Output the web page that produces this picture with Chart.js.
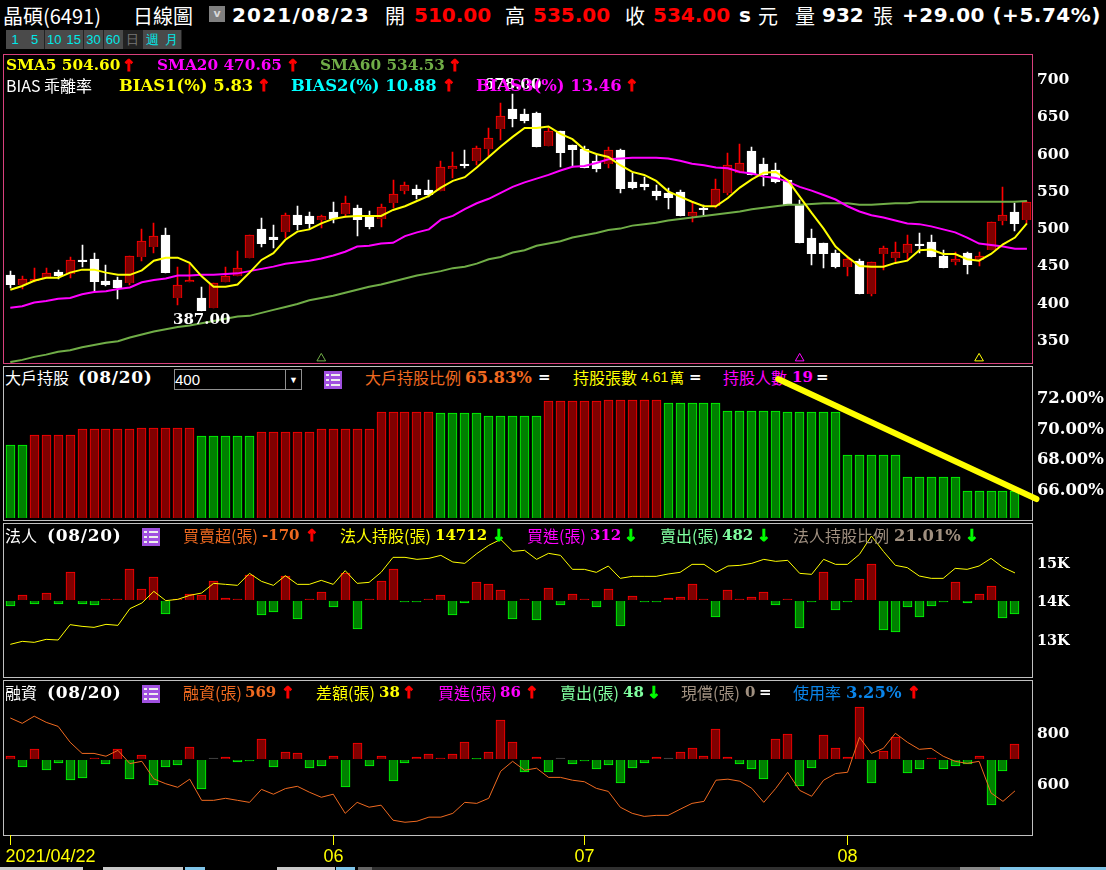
<!DOCTYPE html>
<html>
<head>
<meta charset="utf-8">
<script src="https://cdn.jsdelivr.net/npm/chart.js@4"></script>
<style>
html, body { margin: 0; padding: 0; background: #000; width: 1106px; height: 870px; overflow: hidden; }
canvas { position: absolute; left: 0; z-index: 1; }
.t { position: absolute; white-space: nowrap; transform: translateY(-50%); line-height: 1; }
.panel { position: absolute; box-sizing: border-box; border: 1px solid #c0c0c0; left: 3px; width: 1030px; }
.cell { position: absolute; top: 30px; height: 19px; width: 19px; background: #4a4a4a; border-right: 1px solid #222; color: #00e8e8; font: 13px "Liberation Sans"; line-height: 19px; text-align: center; }
.icon { position: absolute; left: 0; width: 18px; height: 18px; background: #a050e0; z-index: 2; }
.icon i { position: absolute; left: 7px; width: 9px; height: 2px; background: #eee; }
.icon b { position: absolute; left: 2px; width: 3px; height: 2px; background: #eee; }
.bar { position: absolute; top: 867px; height: 3px; }
</style>
</head>
<body>
<script>
// x 軸: 2021/04/22 ~ 2021/08/23 共 86 根
const days = Array.from({ length: 86 }, (_, i) => i);

// K 線
const openPrice = [
  436,423,428,432,440,437,456,457,428,429,
  425,460,474,490,405,427,405,392,426,435,
  458,498,487,494,516,515,509,520,517,526,
  513,511,533,548,551,550,549,578,585,588,
  605,631,658,652,653,609,629,610,605,589,
  585,603,561,558,548,546,547,515,525,528,
  546,573,602,585,577,563,530,486,479,465,
  447,455,410,464,459,465,477,480,461,453,
  465,456,469,508,520,510];
const highPrice = [
  441,435,445,445,443,460,476,465,449,433,
  461,498,506,499,447,450,420,425,447,468,
  490,512,503,519,528,520,516,534,542,529,
  522,531,563,561,557,563,589,601,604,609,
  633,667,678,658,654,633,629,610,609,597,
  608,605,572,567,557,552,550,534,530,564,
  600,612,607,593,586,563,536,498,479,469,
  461,457,453,475,480,490,492,490,469,467,
  467,467,507,554,532,535];
const lowPrice = [
  419,417,427,432,431,432,447,414,421,404,
  422,455,465,438,396,427,387,392,426,435,
  458,473,472,486,496,497,499,506,514,488,
  498,500,526,544,538,541,549,566,579,583,
  595,617,634,640,608,609,581,581,579,574,
  579,546,551,550,536,524,515,507,516,525,
  543,573,570,555,559,530,479,449,445,445,
  435,410,408,443,453,456,465,460,445,449,
  437,448,469,503,495,505];
const closePrice = [
  422,431,431,439,435,456,453,426,422,418,
  461,482,488,438,422,429,387,425,435,445,
  490,478,483,516,503,504,515,511,532,510,
  500,527,545,556,543,543,580,582,582,606,
  620,649,645,642,608,629,599,603,579,578,
  603,551,553,554,542,539,515,520,523,551,
  583,586,570,570,561,530,479,464,464,447,
  457,410,453,472,467,477,475,460,445,457,
  449,461,507,516,504,534];

// 均線
const sma5 = [
  416,421,428,432,432,439,443,443,439,436,
  436,442,455,459,459,452,434,420,420,423,
  439,456,465,483,494,497,505,511,514,515,
  515,515,523,528,535,542,553,562,567,580,
  594,608,621,633,633,635,625,618,604,598,
  594,583,574,570,562,548,541,534,528,528,
  539,553,564,573,574,563,541,519,498,474,
  460,448,447,447,452,455,469,470,464,464,
  457,455,464,477,486,505];
const sma20 = [
  392,394,399,401,404,405,410,413,414,417,
  419,426,429,431,435,435,436,436,437,438,
  441,444,447,451,453,455,458,462,467,474,
  475,478,479,488,493,497,510,515,524,532,
  538,546,554,560,565,570,576,581,582,586,
  591,592,593,593,593,592,589,585,583,580,
  579,574,572,568,566,561,554,549,543,537,
  528,521,516,513,509,505,504,501,497,493,
  486,478,476,474,471,471];
const sma60 = [
  319,322,326,329,333,335,339,342,345,347,
  352,356,360,363,366,368,371,374,377,380,
  381,385,389,393,397,402,405,408,412,416,
  420,423,427,431,435,438,441,445,447,451,
  457,460,466,469,475,478,481,486,489,492,
  496,498,502,504,506,509,511,513,515,517,
  519,521,524,526,528,530,530,531,532,532,
  532,530,530,531,532,532,534,534,534,534,
  534,534,534,534,534,535];
const priceTicks = [350, 400, 450, 500, 550, 600, 650, 700];
const signalDays = [26, 66, 81];
const signalPrice = 324;

// 大戶持股 (%)
const bigHolder = [
  68.84,68.84,69.5,69.5,69.5,69.5,69.89,69.89,69.89,69.89,
  69.89,69.95,69.95,69.95,69.95,69.95,69.43,69.43,69.43,69.43,
  69.43,69.69,69.69,69.69,69.69,69.69,69.89,69.89,69.89,69.89,
  69.89,71,71,71,71,71,70.93,70.93,70.93,70.93,
  70.74,70.74,70.74,70.74,70.74,71.72,71.72,71.72,71.72,71.72,
  71.78,71.78,71.78,71.78,71.78,71.59,71.59,71.59,71.59,71.59,
  71.07,71.07,71.07,71.07,71.07,71,71,71,71,71,
  68.19,68.19,68.19,68.19,68.19,66.75,66.75,66.75,66.75,66.75,
  65.83,65.83,65.83,65.83,65.83];
const bigHolderTicks = [66, 68, 70, 72];
const trendDays = [64.2, 85.8];
const trendValues = [73.18, 65.33];

// 法人
const instNet = [
  -64,73,-37,101,-37,390,-37,-50,18,5,
  431,156,321,-174,5,87,73,266,32,18,
  353,-188,-147,335,-243,5,115,-78,376,-381,
  18,266,431,-5,-5,18,73,-188,-18,252,
  225,142,-243,18,-257,170,-50,87,5,-78,
  156,-340,60,-5,-5,32,46,225,5,-216,
  142,18,46,115,-50,18,-367,-5,390,-119,
  -5,294,500,-395,-422,-78,-216,-64,-5,252,
  -18,87,197,-230,-170];
const instHold = [
  12855,12933,12907,12985,12968,13367,13323,13297,13375,13349,
  13783,13930,14233,13991,14025,14129,14190,14441,14415,14389,
  14701,14493,14389,14641,14415,14415,14519,14415,14771,14441,
  14467,14727,15117,15117,15065,15091,15169,14996,14961,15213,
  15429,15585,15273,15299,15065,15221,15169,14805,14805,14727,
  14892,14571,14623,14623,14623,14684,14727,14935,14935,14727,
  14892,14909,14961,15065,15013,15039,14701,14675,15065,14935,
  14935,15195,15672,15273,14909,14849,14632,14571,14571,14831,
  14805,14892,15091,14857,14712];
const instTicks = [13000, 14000, 15000];

// 融資
const marginNet = [
  6,-19,25,-27,-9,-54,-49,1,-11,25,
  -51,9,-67,-19,-14,30,-78,0,4,-5,
  -4,51,-19,17,14,-22,-17,6,-72,41,
  -17,6,-57,-9,4,11,1,11,43,-1,
  17,102,43,-33,4,-33,0,-11,-4,-25,
  -14,-62,-22,-9,4,0,17,27,6,78,
  4,-11,-25,-51,51,65,-70,-22,62,27,
  4,136,-62,19,57,-35,-25,1,-25,-17,
  -11,6,-120,-30,38];
const marginHold = [
  855,834,862,838,822,760,716,716,705,728,
  676,685,616,597,583,615,532,532,540,532,
  524,575,556,578,587,564,544,556,481,524,
  505,513,454,446,450,466,466,481,524,520,
  540,646,685,650,658,622,622,611,605,579,
  567,505,481,469,473,473,497,520,528,611,
  615,607,579,524,579,642,571,548,611,637,
  642,779,716,736,795,760,732,736,705,685,
  677,685,561,528,569];
const marginTicks = [600, 800];

// 月份刻度
const monthDays = [0, 27, 48, 70];
const monthLabels = ["2021/04/22", "06", "07", "08"];

const RED = "#ff0000", DARK_RED = "#800000", GREEN = "#00ff00", DARK_GREEN = "#008000";
const SERIF = '"DejaVu Serif"';
const CJK = '"Noto Sans CJK TC"';

// 把長條對齊到整數像素,負值往下退一格
const crispBars = {
  id: "crispBars",
  afterDatasetsUpdate(chart) {
    chart.data.datasets.forEach((ds, n) => {
      const meta = chart.getDatasetMeta(n);
      if (meta.type !== "bar") return;
      meta.data.forEach((el) => {
        if (!isFinite(el.y)) return;
        el.x = Math.floor(el.x) + 0.5;
        el.y = Math.round(el.y);
        el.base = Math.round(el.base);
        if (ds.zeroGap) {
          if (el.y === el.base) el.y = el.base - 1;
          if (el.y > el.base) { el.y += 1; el.base += 1; }
        }
      });
    });
  }
};

function baseOptions(yScales) {
  return {
    responsive: false,
    animation: false,
    events: [],
    plugins: { legend: { display: false }, tooltip: { enabled: false } },
    layout: { autoPadding: false, padding: { left: 4.32 } },
    scales: Object.assign({ x: { display: false, offset: true, grid: { display: false } } }, yScales)
  };
}

function valueAxis(min, max, tickValues, format, fontSize) {
  return {
    position: "right", min, max,
    grid: { display: false, drawTicks: false },
    border: { display: false },
    afterBuildTicks: (s) => { s.ticks = tickValues.map((v) => ({ value: v })); },
    // 不要讓標籤高度把繪圖區往內縮
    afterFit: (s) => { s.width = 73.1; s.paddingTop = 0; s.paddingBottom = 0; },
    ticks: {
      autoSkip: false, padding: 4, color: "#fff", labelOffset: 2,
      font: { family: "DejaVu Serif", weight: "bold", size: fontSize },
      callback: format
    }
  };
}

function addCanvas(top, height) {
  const c = document.createElement("canvas");
  c.width = 1106;
  c.height = height;
  c.style.top = top + "px";
  document.body.appendChild(c);
  return c.getContext("2d");
}

function text(x, y, str, color, font, z, extra) {
  const s = document.createElement("span");
  s.className = "t";
  s.textContent = str;
  s.style.cssText = `left:${x}px;top:${y}px;color:${color};font:${font};z-index:${z === undefined ? 2 : z};${extra || ""}`;
  document.body.appendChild(s);
}

function arrow(x, y, up) {
  text(x - 1, y, up ? "↑" : "↓", up ? RED : GREEN, 'bold 16px "DejaVu Sans"', 2, "-webkit-text-stroke:1px " + (up ? RED : GREEN));
}

function panel(top, height, color) {
  const p = document.createElement("div");
  p.className = "panel";
  p.style.top = top + "px";
  p.style.height = height + "px";
  if (color) p.style.borderColor = color;
  document.body.appendChild(p);
}

function listIcon(x, y) {
  const d = document.createElement("div");
  d.className = "icon";
  d.style.left = x + "px";
  d.style.top = y + "px";
  d.innerHTML = "<b style='top:3px'></b><i style='top:3px'></i><b style='top:8px'></b><i style='top:8px'></i><b style='top:13px'></b><i style='top:13px'></i>";
  document.body.appendChild(d);
}

// ---- 面板與表頭 ----
panel(54, 310, "#d8407c");
panel(366, 155);
panel(523, 155);
panel(680, 156);

const big = `bold 20px "DejaVu Sans"`;
const cjkTop = `20px ${CJK}`;
text(3, 15, "晶碩(6491)", "#fff", cjkTop);
text(133, 15, "日線圖", "#fff", cjkTop);
text(232, 15, "2021/08/23", "#fff", big, 2, "letter-spacing:1.2px");
text(385, 15, "開", "#fff", cjkTop);
text(414, 15, "510.00", RED, big);
text(505, 15, "高", "#fff", cjkTop);
text(533, 15, "535.00", RED, big);
text(625, 15, "收", "#fff", cjkTop);
text(653, 15, "534.00", RED, big);
text(739, 15, "s", "#fff", big);
text(758, 15, "元", "#fff", cjkTop);
text(795, 15, "量", "#fff", cjkTop);
text(822, 15, "932", "#fff", big);
text(873, 15, "張", "#fff", cjkTop);
text(902, 15, "+29.00 (+5.74%)", "#fff", big, 2, "letter-spacing:.5px");

const btn = document.createElement("div");
btn.style.cssText = 'position:absolute;left:209px;top:6px;width:16px;height:16px;background:#808080;color:#d8d8d8;font:bold 11px "DejaVu Sans";line-height:15px;text-align:center';
btn.textContent = "v";
document.body.appendChild(btn);

["1", "5", "10", "15", "30", "60", "日", "週", "月"].forEach((label, i) => {
  const c = document.createElement("div");
  c.className = "cell";
  c.style.left = 5.5 + i * 19.6 + "px";
  c.textContent = label;
  if (label === "日") { c.style.background = "#222"; c.style.color = "#777"; }
  document.body.appendChild(c);
});

const v15 = `bold 15px ${SERIF}`;
const v153 = `bold 15.3px ${SERIF}`;
const v164 = `bold 16.4px ${SERIF}`;
const date17 = `bold 17px ${SERIF}`;
const c16 = `16px ${CJK}`;
text(6, 65, "SMA5 504.60", "#ffff00", v153);
arrow(123, 65, true);
text(157, 65, "SMA20 470.65", "#ff00ff", v153);
arrow(287, 65, true);
text(320, 65, "SMA60 534.53", "#70ad47", v153);
arrow(449, 65, true);
text(6, 85, "BIAS 乖離率", "#fff", c16);
text(119, 85, "BIAS1(%) 5.83", "#ffff00", v164);
arrow(258, 85, true);
text(291, 85, "BIAS2(%) 10.88", "#00ffff", v164);
arrow(443, 85, true);
text(476, 85, "BIAS3(%) 13.46", "#ff00ff", v164);
arrow(626, 85, true);

// 大戶持股表頭壓在粗黃線下面,所以 z=0
text(5, 377, "大戶持股", "#fff", c16, 0);
text(78, 377, "(08/20)", "#fff", date17, 0, "letter-spacing:.7px");
const combo = document.createElement("div");
combo.style.cssText = 'position:absolute;left:174px;top:369px;width:126px;height:19px;border:1px solid #909090;color:#fff;font:15px "Liberation Sans";line-height:20px;z-index:0';
combo.innerHTML = '400<span style="position:absolute;right:0;top:0;width:15px;height:19px;border-left:1px solid #909090;text-align:center;font-size:9px;line-height:20px">▼</span>';
document.body.appendChild(combo);
listIcon(324, 371);
text(365, 377, "大戶持股比例", "#f06a20", c16, 0);
text(465, 377, "65.83%", "#f06a20", v164, 0);
text(538, 377, "=", "#fff", v15, 0);
text(573, 377, "持股張數", "#ffff00", c16, 0);
text(641, 377, "4.61", "#ffff00", '14px "Liberation Sans"', 0);
text(670, 377, "萬", "#ffff00", `14px ${CJK}`, 0);
text(689, 377, "=", "#fff", v15, 0);
text(723, 377, "持股人數", "#ff00ff", c16, 0);
text(792, 377, "19", "#ff00ff", v15, 0);
text(816, 377, "=", "#fff", v15, 0);

text(5, 535, "法人", "#fff", c16);
text(47, 535, "(08/20)", "#fff", date17, 2, "letter-spacing:.7px");
listIcon(142, 528);
text(183, 535, "買賣超(張)", "#f06a20", c16);
text(262, 535, "-170", "#f06a20", v15);
arrow(306, 535, true);
text(340, 535, "法人持股(張)", "#ffff00", c16);
text(435, 535, "14712", "#ffff00", v15);
arrow(493, 535, false);
text(527, 535, "買進(張)", "#ff00ff", c16);
text(590, 535, "312", "#ff00ff", v15);
arrow(625, 535, false);
text(660, 535, "賣出(張)", "#80ffa0", c16);
text(722, 535, "482", "#80ffa0", v15);
arrow(758, 535, false);
text(793, 535, "法人持股比例", "#a09080", c16);
text(894, 535, "21.01%", "#a09080", v164);
arrow(966, 535, false);

text(5, 692, "融資", "#fff", c16);
text(47, 692, "(08/20)", "#fff", date17, 2, "letter-spacing:.7px");
listIcon(142, 685);
text(183, 692, "融資(張)", "#f06a20", c16);
text(245, 692, "569", "#f06a20", v15);
arrow(282, 692, true);
text(316, 692, "差額(張)", "#ffff00", c16);
text(379, 692, "38", "#ffff00", v15);
arrow(403, 692, true);
text(438, 692, "買進(張)", "#ff00ff", c16);
text(500, 692, "86", "#ff00ff", v15);
arrow(526, 692, true);
text(560, 692, "賣出(張)", "#80ffa0", c16);
text(623, 692, "48", "#80ffa0", v15);
arrow(648, 692, false);
text(681, 692, "現償(張)", "#a09080", c16);
text(745, 692, "0", "#a09080", v15);
text(759, 692, "=", "#fff", v15);
text(793, 692, "使用率", "#0a84e8", c16);
text(846, 692, "3.25%", "#0a84e8", v164);
arrow(908, 692, true);

// 視窗最底下那條捲軸
[[0, 83, "#c8c8c8"], [103, 80, "#c8c8c8"], [185, 20, "#7fc4e8"], [277, 58, "#c8c8c8"], [336, 19, "#7fc4e8"],
 [358, 14, "#666"], [372, 732, "#303030"], [960, 40, "#888"], [1000, 106, "#7fc4e8"]].forEach(([x, w, col]) => {
  const d = document.createElement("div");
  d.className = "bar";
  d.style.cssText = `left:${x}px;width:${w}px;background:${col}`;
  document.body.appendChild(d);
});

// ---- K 線 ----
const isUp = (i) => closePrice[i] >= openPrice[i];

const extremeLabels = {
  id: "extremeLabels",
  afterDatasetsDraw(chart) {
    const { ctx, scales } = chart;
    const iLow = lowPrice.indexOf(Math.min(...lowPrice));
    const iHigh = highPrice.indexOf(Math.max(...highPrice));
    ctx.save();
    ctx.fillStyle = "#fff";
    ctx.font = `bold 15px ${SERIF}`;
    ctx.textAlign = "center";
    ctx.textBaseline = "middle";
    ctx.fillText(lowPrice[iLow].toFixed(2), scales.x.getPixelForValue(iLow), scales.y.getPixelForValue(lowPrice[iLow]) + 9);
    ctx.fillText(highPrice[iHigh].toFixed(2), scales.x.getPixelForValue(iHigh), scales.y.getPixelForValue(highPrice[iHigh]) - 9);
    ctx.restore();
  }
};

new Chart(addCanvas(55, 308), {
  type: "bar",
  plugins: [crispBars, extremeLabels],
  data: {
    labels: days,
    datasets: [
      { type: "line", data: sma5, borderColor: "#ffff00", borderWidth: 2, pointRadius: 0, tension: 0, order: 1 },
      { type: "line", data: sma20, borderColor: "#ff00ff", borderWidth: 2, pointRadius: 0, tension: 0, order: 2 },
      { type: "line", data: sma60, borderColor: "#70ad47", borderWidth: 2, pointRadius: 0, tension: 0, order: 3 },
      {
        type: "line", showLine: false, order: 4,
        data: days.map((d) => (signalDays.includes(d) ? signalPrice : null)),
        pointStyle: "triangle", pointRadius: 5, pointBorderWidth: 1, pointBackgroundColor: "transparent",
        pointBorderColor: (c) => ["#70ad47", "#ff00ff", "#ffff00"][signalDays.indexOf(c.dataIndex)]
      },
      {
        data: openPrice.map((o, i) => [o, closePrice[i]]), grouped: false, barThickness: 9, borderWidth: 1, order: 5,
        backgroundColor: (c) => (isUp(c.dataIndex) ? DARK_RED : "#fff"),
        borderColor: (c) => (isUp(c.dataIndex) ? RED : "#fff")
      },
      {
        data: lowPrice.map((l, i) => [l, highPrice[i]]), grouped: false, barThickness: 1, borderWidth: 0, order: 6,
        backgroundColor: (c) => (isUp(c.dataIndex) ? RED : "#fff")
      }
    ]
  },
  options: baseOptions({ y: valueAxis(317.8, 730.8, priceTicks, (v) => v, 15.5) })
});

// ---- 大戶持股 ----
let holderDir = false;
const holderUp = bigHolder.map((v, i) => {
  if (i > 0 && v !== bigHolder[i - 1]) holderDir = v > bigHolder[i - 1];
  return holderDir;
});

const trendLine = {
  id: "trendLine",
  afterDraw(chart) {
    const { ctx, scales } = chart;
    ctx.save();
    ctx.strokeStyle = "#ffff00";
    ctx.lineWidth = 6;
    ctx.lineCap = "round";
    ctx.beginPath();
    ctx.moveTo(scales.x.getPixelForValue(trendDays[0]), scales.y.getPixelForValue(trendValues[0]));
    ctx.lineTo(scales.x.getPixelForValue(trendDays[1]), scales.y.getPixelForValue(trendValues[1]));
    ctx.stroke();
    ctx.restore();
  }
};

new Chart(addCanvas(366, 154), {
  type: "bar",
  plugins: [crispBars, trendLine],
  data: {
    labels: days,
    datasets: [{
      data: bigHolder, base: 64.06, barThickness: 9, borderWidth: 1,
      backgroundColor: (c) => (holderUp[c.dataIndex] ? DARK_RED : DARK_GREEN),
      borderColor: (c) => (holderUp[c.dataIndex] ? RED : GREEN)
    }]
  },
  options: baseOptions({ y: valueAxis(63.96, 74.03, bigHolderTicks, (v) => v.toFixed(2) + "%", 16.4) })
});

// ---- 法人 / 融資 共用 ----
function flowDatasets(net, hold, lineColor) {
  const fill = (c) => { const v = net[c.dataIndex]; return v > 0 ? DARK_RED : v < 0 ? DARK_GREEN : "#404040"; };
  const edge = (c) => { const v = net[c.dataIndex]; return v > 0 ? RED : v < 0 ? GREEN : "#404040"; };
  return [
    { type: "line", data: hold, yAxisID: "y", borderColor: lineColor, borderWidth: 1, pointRadius: 0, tension: 0, order: 1 },
    { data: net, yAxisID: "y1", barThickness: 9, borderWidth: 1, zeroGap: true, order: 2, backgroundColor: fill, borderColor: edge }
  ];
}

new Chart(addCanvas(523, 154), {
  type: "bar",
  plugins: [crispBars],
  data: { labels: days, datasets: flowDatasets(instNet, instHold, "#ffff00") },
  options: baseOptions({
    y: valueAxis(12006, 16010, instTicks, (v) => v / 1000 + "K", 14.5),
    y1: { display: false, min: -1056, max: 1065 }
  })
});

// 融資面板底下順便畫月份刻度
const monthAxis = {
  id: "monthAxis",
  afterDraw(chart) {
    const { ctx, scales, chartArea } = chart;
    ctx.save();
    ctx.font = '18px "Liberation Sans"';
    ctx.textBaseline = "middle";
    monthDays.forEach((d, i) => {
      const x = Math.floor(scales.x.getPixelForValue(d)) + 0.5;
      ctx.strokeStyle = "#ffff00";
      ctx.beginPath();
      ctx.moveTo(x, chartArea.bottom);
      ctx.lineTo(x, chartArea.bottom + 10);
      ctx.stroke();
      ctx.fillStyle = "#ffff00";
      ctx.textAlign = i === 0 ? "left" : "center";
      ctx.fillText(monthLabels[i], i === 0 ? x - 5 : x, chartArea.bottom + 22);
    });
    ctx.restore();
  }
};

const marginOptions = baseOptions({
  y: valueAxis(396, 1004, marginTicks, (v) => v, 15.5),
  y1: { display: false, min: -202, max: 208 }
});
marginOptions.layout.padding.bottom = 33;

new Chart(addCanvas(680, 188), {
  type: "bar",
  plugins: [crispBars, monthAxis],
  data: { labels: days, datasets: flowDatasets(marginNet, marginHold, "#f06a20") },
  options: marginOptions
});
</script>
</body>
</html>
